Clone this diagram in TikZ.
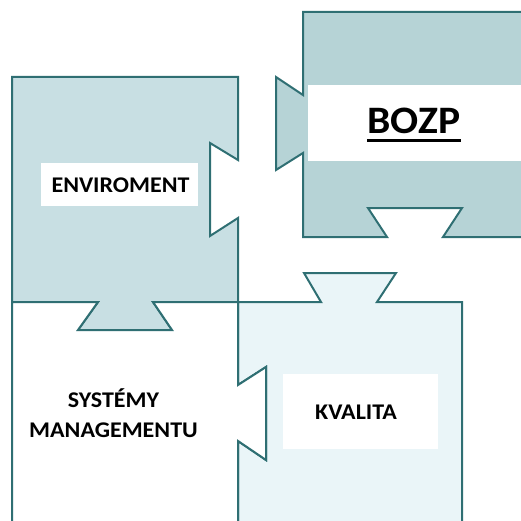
\documentclass[tikz,border=0pt]{standalone}
\usepackage{fontspec}
\setmainfont{Carlito}
\newfontfamily\widefont[FakeStretch=1.07]{Carlito}
\usepackage{xcolor}
\usepackage{tikz}
\usetikzlibrary{positioning}

\definecolor{edgecol}{HTML}{2F6F73}
\definecolor{envfill}{HTML}{C8DFE3}
\definecolor{bozpfill}{HTML}{B6D3D6}
\definecolor{kvalfill}{HTML}{EAF5F8}

\begin{document}
\begin{tikzpicture}[x=1bp,y=-1bp]

        \def\lw{2bp}

        % Styles of the puzzle pieces and the white name plates
        \tikzset{
            piece/.style={draw=edgecol, line width=\lw},
            plate/.style={fill=white, inner sep=0pt},
            word/.style={font=\widefont\bfseries\fontsize{22.5}{30}\selectfont,
                align=center, inner sep=0pt}
        }

        \useasboundingbox (0,0) rectangle (521,521);
        \clip (0,0) rectangle (521,521);

        % The four pieces, top left first
        \begin{scope}
            \path[piece, fill=envfill]
                (12,77) -- (238,77) -- (238,160) -- (210,143)
                -- (210,236) -- (238,218) -- (238,302) -- (153,302)
                -- (172,330) -- (78,330) -- (98,302) -- (12,302) -- cycle;
            \path[piece, fill=kvalfill]
                (238,302) -- (321,302) -- (304,273) -- (396,273)
                -- (377,302) -- (462,302) -- (462,540) -- (238,540)
                -- (238,441) -- (266,460) -- (266,367) -- (238,385) -- cycle;
            \path[piece, fill=white]
                (12,330) -- (12,302) -- (98,302) -- (78,330) -- (172,330)
                -- (153,302) -- (238,302) -- (238,385) -- (266,367)
                -- (266,460) -- (238,441) -- (238,540) -- (12,540) -- cycle;
            \path[piece, fill=bozpfill]
                (303,12) -- (540,12) -- (540,237) -- (443,237)
                -- (462,208) -- (368,208) -- (387,237) -- (303,237)
                -- (303,153) -- (276,170) -- (276,77) -- (303,95) -- cycle;
        \end{scope}

        % Name plates
        \begin{scope}
            \node (envplate) [plate, minimum width=157bp,
                minimum height=43bp] at (119.5,184.5) {};
            \node (bozpplate) [plate, minimum width=213bp,
                minimum height=76bp] at (414.5,123) {};
            \node (kvalplate) [plate, minimum width=155bp,
                minimum height=75bp] at (360.5,411.5) {};
        \end{scope}

        % Texts
        \begin{scope}
            \node (ENV) [word] at (120.5,185) {ENVIROMENT};
            \node (BOZP) [word, font=\widefont\bfseries\fontsize{39}{40}\selectfont]
                at (414,120.5) {BOZP};
            \node (KVAL) [word] at (356,412.5) {KVALITA};
            \node (SYS) [word] at (113.5,413) {SYSTÉMY\\MANAGEMENTU};
            \draw[line width=2.5bp] ([yshift=-7bp]BOZP.south west)
                -- ([yshift=-7bp]BOZP.south east);
        \end{scope}

\end{tikzpicture}
\end{document}
